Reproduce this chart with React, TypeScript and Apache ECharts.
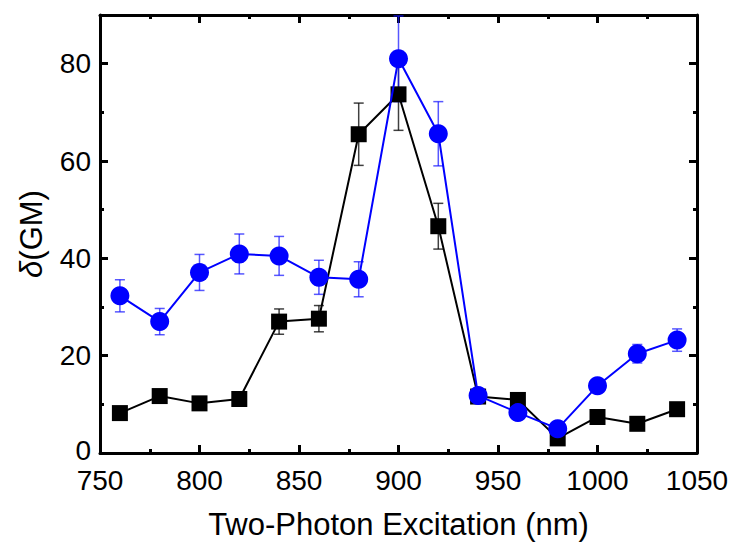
import React, { useEffect, useRef } from "react";
import * as echarts from "echarts";

const wavelengths = [760, 780, 800, 820, 840, 860, 880, 900, 920, 940, 960, 980, 1000, 1020, 1040];
const blackValues = [8.2, 11.7, 10.2, 11.1, 27.0, 27.6, 65.5, 73.7, 46.6, 11.6, 10.9, 3.0, 7.4, 6.0, 9.0];
const blackErrors = [0.8, 0.8, 0.8, 0.8, 2.6, 2.7, 6.4, 7.4, 4.7, 1.0, 1.0, 1.0, 0.8, 0.8, 0.8];
const blueValues = [32.3, 27.0, 37.1, 40.9, 40.5, 36.1, 35.7, 81.0, 65.6, 11.8, 8.3, 5.0, 13.8, 20.4, 23.2];
const blueErrors = [3.3, 2.7, 3.7, 4.1, 4.0, 3.5, 3.6, 8.8, 6.6, 1.0, 1.0, 1.0, 1.0, 1.9, 2.3];
const xTickLabels = ["750", "800", "850", "900", "950", "1000", "1050"];
const yTickLabels = ["0", "20", "40", "60", "80"];

const FONT = "Liberation Sans";

function errorSeries(values: number[], errors: number[], color: string, opacity: number) {
  const data = wavelengths.map((w, i) => [w, values[i] - errors[i], values[i] + errors[i]]);
  return {
    type: "custom",
    xAxisIndex: 0,
    yAxisIndex: 0,
    z: 1,
    silent: true,
    encode: { x: 0, y: [1, 2] },
    data,
    renderItem: (params: any, api: any) => {
      const x = api.value(0);
      const lo = api.value(1);
      const hi = api.value(2);
      const pHi = api.coord([x, hi]);
      const pLo = api.coord([x, lo]);
      const w = 5;
      const style = { stroke: color, lineWidth: 1.5, opacity };
      return {
        type: "group",
        children: [
          { type: "line", shape: { x1: pHi[0], y1: pHi[1], x2: pLo[0], y2: pLo[1] }, style },
          { type: "line", shape: { x1: pHi[0] - w, y1: pHi[1], x2: pHi[0] + w, y2: pHi[1] }, style },
          { type: "line", shape: { x1: pLo[0] - w, y1: pLo[1], x2: pLo[0] + w, y2: pLo[1] }, style },
        ],
      };
    },
  };
}

export default function App() {
  const ref = useRef<HTMLDivElement>(null);

  useEffect(() => {
    document.body.style.margin = "0";
    if (!ref.current) return;
    const chart = echarts.init(ref.current, undefined, { renderer: "svg" });

    const axisLine = { show: true, onZero: false, lineStyle: { color: "#000", width: 3 } };
    const xBase = { type: "value", min: 750, max: 1050, interval: 50 };

    const option: any = {
      animation: false,
      backgroundColor: "#fff",
      textStyle: { fontFamily: FONT },
      grid: { left: 100, right: 37, top: 15, bottom: 99, containLabel: false },
      xAxis: [
        {
          ...xBase,
          position: "bottom",
          axisLine,
          axisTick: { show: true, inside: true, length: 8, lineStyle: { color: "#000", width: 3 } },
          minorTick: { show: true, splitNumber: 2, length: 4, lineStyle: { color: "#000", width: 3 } },
          splitLine: { show: false },
          axisLabel: {
            show: true,
            margin: 13,
            fontSize: 28,
            fontFamily: FONT,
            color: "#000",
            formatter: (v: number) => (xTickLabels.includes(String(v)) ? String(v) : ""),
          },
          name: "Two-Photon Excitation (nm)",
          nameLocation: "middle",
          nameGap: 56,
          nameTextStyle: { fontSize: 31, fontFamily: FONT, color: "#000" },
        },
        {
          ...xBase,
          position: "top",
          axisLine,
          axisTick: { show: true, inside: true, length: 8, lineStyle: { color: "#000", width: 3 } },
          minorTick: { show: true, splitNumber: 2, length: 4, lineStyle: { color: "#000", width: 3 } },
          splitLine: { show: false },
          axisLabel: { show: false },
        },
      ],
      yAxis: [
        {
          type: "value",
          min: 0,
          max: 90,
          interval: 20,
          position: "left",
          axisLine,
          axisTick: { show: true, inside: true, length: 8, lineStyle: { color: "#000", width: 3 } },
          splitLine: { show: false },
          axisLabel: {
            show: true,
            margin: 9,
            fontSize: 28,
            fontFamily: FONT,
            color: "#000",
            showMaxLabel: false,
            formatter: (v: number) => {
              const s = String(v);
              if (!yTickLabels.includes(s)) return "";
              return v === 0 ? "{z|" + s + "}" : s;
            },
            rich: { z: { fontSize: 28, fontFamily: FONT, color: "#000", padding: [0, 0, 6, 0] } },
          },
          name: "{i|δ}(GM)",
          nameLocation: "middle",
          nameGap: 53,
          nameTextStyle: {
            fontSize: 31,
            fontFamily: FONT,
            color: "#000",
            rich: { i: { fontSize: 31, fontFamily: FONT, fontStyle: "italic", color: "#000" } },
          },
        },
        {
          type: "value",
          min: 0,
          max: 90,
          interval: 10,
          position: "left",
          axisLine: { show: false },
          axisTick: { show: true, inside: true, length: 4, lineStyle: { color: "#000", width: 3 } },
          splitLine: { show: false },
          axisLabel: { show: false },
        },
        {
          type: "value",
          min: 0,
          max: 90,
          interval: 20,
          position: "right",
          axisLine,
          axisTick: { show: true, inside: true, length: 8, lineStyle: { color: "#000", width: 3 } },
          splitLine: { show: false },
          axisLabel: { show: false },
        },
        {
          type: "value",
          min: 0,
          max: 90,
          interval: 10,
          position: "right",
          axisLine: { show: false },
          axisTick: { show: true, inside: true, length: 4, lineStyle: { color: "#000", width: 3 } },
          splitLine: { show: false },
          axisLabel: { show: false },
        },
      ],
      series: [
        errorSeries(blackValues, blackErrors, "#000", 0.75),
        {
          type: "line",
          xAxisIndex: 0,
          yAxisIndex: 0,
          z: 2,
          data: wavelengths.map((w, i) => [w, blackValues[i]]),
          symbol: "rect",
          symbolSize: 16,
          itemStyle: { color: "#000" },
          lineStyle: { color: "#000", width: 2 },
        },
        errorSeries(blueValues, blueErrors, "#1010ff", 0.7),
        {
          type: "line",
          xAxisIndex: 0,
          yAxisIndex: 0,
          z: 3,
          data: wavelengths.map((w, i) => [w, blueValues[i]]),
          symbol: "circle",
          symbolSize: 19,
          itemStyle: { color: "#0000ff" },
          lineStyle: { color: "#0000ff", width: 2 },
        },
      ],
    };

    chart.setOption(option);
    return () => chart.dispose();
  }, []);

  return <div ref={ref} style={{ width: 734, height: 552 }} />;
}
